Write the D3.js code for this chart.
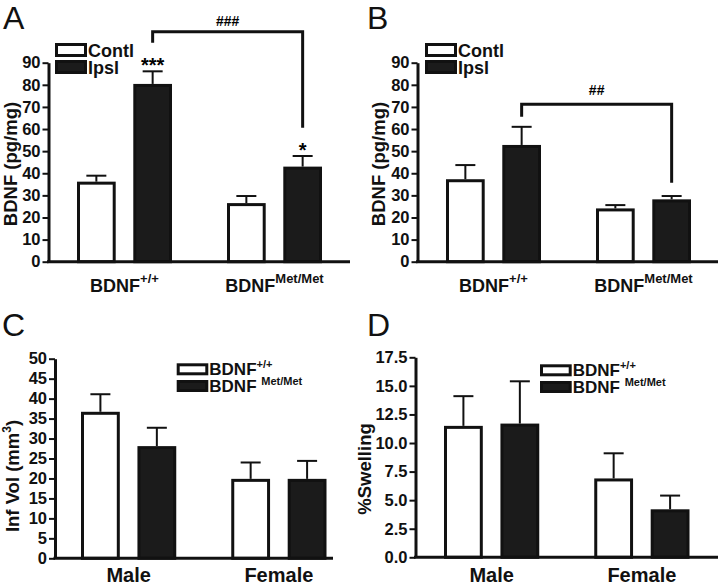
<!DOCTYPE html>
<html><head><meta charset="utf-8">
<script src="https://cdn.jsdelivr.net/npm/d3@7"></script>
<style>body{margin:0;background:#fff}svg text{font-family:"Liberation Sans Narrow","Arial Narrow","Liberation Sans",Arial,sans-serif}</style>
</head><body><svg id="c" width="720" height="586"></svg>
<script>
// ---------- DATA ----------
const groupsAB = [["BDNF", "+/+"], ["BDNF", "Met/Met"]];
const seriesAB = ["Contl", "Ipsl"];
const groupsCD = [["Male", ""], ["Female", ""]];
const seriesCD = [["BDNF", "+/+"], ["BDNF ", "Met/Met"]];

const aContl = [36.2, 26.5], aContlErr = [38.9, 29.7];
const aIpsl = [80.4, 43.0], aIpslErr = [86.1, 47.8];
const aStars = [["", "***"], ["", "*"]];
const aBracket = {level: 104, left: 99, right: 60.6, label: "###", labelAt: 106.8};

const bContl = [37.3, 24.1], bContlErr = [43.7, 25.6];
const bIpsl = [52.8, 28.2], bIpslErr = [61.0, 29.7];
const bBracket = {level: 71.2, left: 65.6, right: 35.7, label: "##", labelAt: 75.6};

const cWT = [36.7, 19.9], cWTErr = [41.1, 24.0];
const cMet = [28.1, 19.9], cMetErr = [32.7, 24.4];

const dWT = [11.5, 6.9], dWTErr = [14.1, 9.1];
const dMet = [11.7, 4.2], dMetErr = [15.4, 5.4];

const ticksAB = [0, 10, 20, 30, 40, 50, 60, 70, 80, 90];
const ticksC = [0, 5, 10, 15, 20, 25, 30, 35, 40, 45, 50];
const ticksD = [0, 2.5, 5, 7.5, 10, 12.5, 15, 17.5];

// ---------- DRAW ----------
const svg = d3.select("#c");
const FILLS = ["#ffffff", "#1b1b1b"];
const WIDE = '"Liberation Sans",Arial,sans-serif';

function supText(sel, main, sup, supSize, dy) {
  sel.append("tspan").text(main);
  if (sup) sel.append("tspan").attr("font-size", supSize).attr("dy", -dy).text(sup);
}

function panel(cfg) {
  const g = svg.append("g");
  const y = d3.scaleLinear().domain([0, cfg.max]).range(cfg.yRange);
  const gx = d3.scaleBand().domain([0, 1]).range(cfg.groupRange);
  const ix = d3.scaleBand().domain([0, 1]).range([27.5, gx.bandwidth() - 27.5]).paddingInner(0.3125);

  cfg.series.forEach((vals, s) => {
    vals.forEach((v, i) => {
      const x0 = gx(i) + ix(s), w = ix.bandwidth(), cx = x0 + w / 2;
      const e = cfg.errs[s][i];
      g.append("line").attr("x1", cx).attr("x2", cx).attr("y1", y(v)).attr("y2", y(e))
        .attr("stroke", "#111").attr("stroke-width", 2);
      g.append("line").attr("x1", cx - 10).attr("x2", cx + 10).attr("y1", y(e)).attr("y2", y(e))
        .attr("stroke", "#111").attr("stroke-width", 2);
      g.append("rect").attr("x", x0 + 1.5).attr("y", y(v) + 1.5)
        .attr("width", w - 3).attr("height", y(0) - y(v) - 1.5)
        .attr("fill", FILLS[s]).attr("stroke", "#111").attr("stroke-width", 3);
      if (cfg.stars && cfg.stars[i][s]) {
        g.append("text").attr("x", cx).attr("y", y(e) + 1).attr("text-anchor", "middle")
          .attr("font-family", WIDE).attr("font-size", 20).attr("font-weight", "bold").text(cfg.stars[i][s]);
      }
    });
  });

  if (cfg.bracket) {
    const b = cfg.bracket;
    const xl = gx(0) + ix(1) + ix.bandwidth() / 2, xr = gx(1) + ix(1) + ix.bandwidth() / 2;
    g.append("path").attr("d", `M${xl},${y(b.left)}V${y(b.level)}H${xr}V${y(b.right)}`)
      .attr("fill", "none").attr("stroke", "#111").attr("stroke-width", 3);
    g.append("text").attr("x", (xl + xr) / 2).attr("y", y(b.labelAt)).attr("text-anchor", "middle")
      .attr("font-family", WIDE).attr("font-size", 14).attr("font-weight", "bold").text(b.label);
  }

  const ax = g.append("g").attr("transform", `translate(${cfg.axisX},0)`)
    .call(d3.axisLeft(y).tickValues(cfg.ticks).tickSize(6).tickSizeOuter(0).tickPadding(2).tickFormat(cfg.fmt));
  ax.select(".domain").attr("stroke", "#111").attr("stroke-width", 3);
  ax.selectAll(".tick line").attr("stroke", "#111").attr("stroke-width", 2);
  ax.selectAll(".tick text").attr("font-size", 16.5).attr("font-weight", "bold").attr("fill", "#111")
    .attr("font-family", null);
  g.append("line").attr("x1", cfg.axisX - 1.5).attr("x2", cfg.xEnd).attr("y1", y(0)).attr("y2", y(0))
    .attr("stroke", "#111").attr("stroke-width", 3);

  cfg.groups.forEach((gl, i) => {
    const t = g.append("text").attr("x", gx(i) + gx.bandwidth() / 2).attr("y", cfg.groupLabelY)
      .attr("text-anchor", "middle").attr("font-size", cfg.groupFs).attr("font-weight", "bold").attr("fill", "#111");
    supText(t, gl[0], gl[1], 13, 9);
  });

  const yl = g.append("text").attr("transform", `translate(${cfg.yLabel[0]},${cfg.yLabel[1]}) rotate(-90)`)
    .attr("text-anchor", "middle").attr("font-size", cfg.yFs).attr("font-weight", "bold").attr("fill", "#111");
  supText(yl, cfg.yTitle[0], cfg.yTitle[1], 12, 8);
  if (cfg.yTitle[2]) yl.append("tspan").attr("dy", 8).text(cfg.yTitle[2]);

  const L = cfg.legend;
  cfg.legendNames.forEach((nm, s) => {
    const ly = L.y[s];
    g.append("rect").attr("x", L.x + 1.5).attr("y", ly + 1.5).attr("width", L.w - 3).attr("height", L.h - 3)
      .attr("fill", FILLS[s]).attr("stroke", "#111").attr("stroke-width", 3);
    const t = g.append("text").attr("x", L.x + L.w + 1).attr("y", ly + L.h).attr("font-size", L.fs)
      .attr("font-weight", "bold").attr("fill", "#111");
    if (Array.isArray(nm)) supText(t, nm[0], nm[1], 11, 7); else t.text(nm);
  });

  svg.append("text").attr("x", cfg.letter[1]).attr("y", cfg.letter[2]).attr("font-size", 32)
    .attr("font-family", WIDE).attr("fill", "#111").text(cfg.letter[0]);
}

panel({
  max: 90, yRange: [261.7, 62.7], axisX: 48.5, xEnd: 350, groupRange: [49.5, 349.5],
  ticks: ticksAB, fmt: d3.format("d"),
  series: [aContl, aIpsl], errs: [aContlErr, aIpslErr], stars: aStars, bracket: aBracket,
  groups: groupsAB, groupLabelY: 292, groupFs: 18, yLabel: [17, 164], yFs: 18.5, yTitle: ["BDNF (pg/mg)", ""],
  legendNames: seriesAB, legend: {x: 55, y: [43, 60], w: 32, h: 14, fs: 18},
  letter: ["A", 3, 29]
});
panel({
  max: 90, yRange: [261.7, 62.7], axisX: 417.5, xEnd: 718, groupRange: [418.5, 718.5],
  ticks: ticksAB, fmt: d3.format("d"),
  series: [bContl, bIpsl], errs: [bContlErr, bIpslErr], bracket: bBracket,
  groups: groupsAB, groupLabelY: 292, groupFs: 18, yLabel: [385, 164], yFs: 18.5, yTitle: ["BDNF (pg/mg)", ""],
  legendNames: seriesAB, legend: {x: 425, y: [43, 60], w: 32, h: 14, fs: 18},
  letter: ["B", 367, 29]
});
panel({
  max: 50, yRange: [558.3, 358.7], axisX: 55, xEnd: 333, groupRange: [53.5, 354],
  ticks: ticksC, fmt: d3.format("d"),
  series: [cWT, cMet], errs: [cWTErr, cMetErr],
  groups: groupsCD, groupLabelY: 582, groupFs: 20, yLabel: [19, 476], yFs: 18.5, yTitle: ["Inf Vol (mm", "3", ")"],
  legendNames: seriesCD, legend: {x: 176.7, y: [363.3, 380], w: 31.6, h: 12, fs: 17},
  letter: ["C", 2, 336]
});
panel({
  max: 17.5, yRange: [557.3, 357.3], axisX: 415.5, xEnd: 718, groupRange: [416.5, 717],
  ticks: ticksD, fmt: d3.format(".1f"),
  series: [dWT, dMet], errs: [dWTErr, dMetErr],
  groups: groupsCD, groupLabelY: 582, groupFs: 20, yLabel: [371, 469], yFs: 18.5, yTitle: ["%Swelling", ""],
  legendNames: seriesCD, legend: {x: 540, y: [364.3, 381], w: 31.7, h: 12, fs: 17},
  letter: ["D", 367, 336]
});
</script></body></html>
